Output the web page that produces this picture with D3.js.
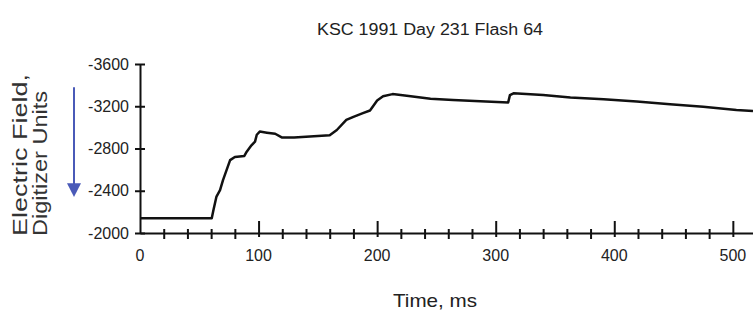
<!DOCTYPE html>
<html>
<head>
<meta charset="utf-8">
<script src="https://cdn.jsdelivr.net/npm/d3@7"></script>
<style>
  body { margin: 0; background: #fff; }
  svg { display: block; font-family: "Liberation Sans", Arial, sans-serif; }
</style>
</head>
<body>
<div id="chart"></div>
<script>

// time in ms, field in digitizer units
var timeMs = [0, 60.5, 62, 64.5, 67.5, 70, 73, 76, 80, 88, 90, 94, 97, 98.5, 101, 107, 114, 119.5, 130,
              160, 166, 174, 180, 188, 194, 200, 205, 213, 225, 245, 264, 287, 310.5, 312, 315, 340,
              363, 391, 419, 447, 475, 503, 517];
var field = [-2140, -2140, -2220, -2345, -2405, -2500, -2595, -2690, -2720, -2730, -2770, -2830, -2865, -2930, -2960, -2950, -2940, -2905, -2905,
             -2925, -2975, -3070, -3100, -3135, -3160, -3255, -3295, -3315, -3300, -3270, -3260, -3248, -3235, -3305, -3322, -3307,
             -3282, -3266, -3244, -3220, -3196, -3165, -3155];

var xMajor = [100, 200, 300, 400, 500];
var xMinor = [20, 40, 60, 80, 120, 140, 160, 180, 220, 240, 260, 280, 320, 340, 360, 380, 420, 440, 460, 480];
var xLabels = [0, 100, 200, 300, 400, 500];
var yTicks = [-3600, -3200, -2800, -2400, -2000];

var title = "KSC 1991 Day 231 Flash 64";

var width = 753, height = 316;

var svg = d3.select("#chart").append("svg")
    .attr("width", width)
    .attr("height", height);

// set the ranges
var x = d3.scaleLinear()
    .domain([0, 517])
    .range([140, 753]);

var y = d3.scaleLinear()
    .domain([-2000, -3600])
    .range([233, 64]);

// x axis: minor ticks first, then the longer majors
var xMin = svg.append("g")
    .attr("transform", "translate(0," + y(-2000) + ")")
    .call(d3.axisBottom(x).tickValues(xMinor).tickSizeOuter(0).tickFormat(""));
xMin.select(".domain").attr("stroke-width", 2).attr("stroke", "#111");
xMin.selectAll(".tick line").attr("y1", -4).attr("y2", 6).attr("stroke-width", 2).attr("stroke", "#111");

var xMaj = svg.append("g")
    .attr("transform", "translate(0," + y(-2000) + ")")
    .call(d3.axisBottom(x).tickValues(xMajor).tickSizeOuter(0).tickFormat(""));
xMaj.select(".domain").remove();
xMaj.selectAll(".tick line").attr("y1", -12).attr("y2", 4).attr("stroke-width", 2).attr("stroke", "#111");

// x tick labels
svg.selectAll(".xlab")
    .data(xLabels)
    .enter().append("text")
    .attr("class", "xlab")
    .attr("x", function(d) { return x(d); })
    .attr("y", 261)
    .attr("text-anchor", "middle")
    .attr("font-size", "16px")
    .attr("fill", "#222")
    .text(function(d) { return d; });

// y axis
var yAx = svg.append("g")
    .attr("transform", "translate(" + x(0) + ",0)")
    .call(d3.axisLeft(y).tickValues(yTicks).tickSizeOuter(0).tickFormat(function(d) { return d; }));
yAx.select(".domain").attr("stroke-width", 2).attr("stroke", "#111");
yAx.selectAll(".tick line").attr("x1", -5).attr("x2", 5).attr("stroke-width", 2).attr("stroke", "#111");
yAx.selectAll(".tick text")
    .attr("x", -11)
    .attr("font-size", "16px")
    .attr("font-family", "Liberation Sans, Arial, sans-serif")
    .attr("fill", "#222");

// the field record
var line = d3.line()
    .x(function(d, i) { return x(timeMs[i]); })
    .y(function(d) { return y(d); });

svg.append("path")
    .datum(field)
    .attr("d", line)
    .attr("fill", "none")
    .attr("stroke", "#111")
    .attr("stroke-width", 2.5)
    .attr("stroke-linejoin", "round");

// TEXT LABELS
// ========================
svg.append("text")
    .attr("x", 430)
    .attr("y", 35)
    .attr("text-anchor", "middle")
    .attr("font-size", "16px")
    .attr("textLength", 226)
    .attr("lengthAdjust", "spacingAndGlyphs")
    .attr("fill", "#222")
    .text(title);

svg.append("text")
    .attr("x", 435)
    .attr("y", 307)
    .attr("text-anchor", "middle")
    .attr("font-size", "19px")
    .attr("textLength", 84)
    .attr("lengthAdjust", "spacingAndGlyphs")
    .attr("fill", "#222")
    .text("Time, ms");

svg.append("text")
    .attr("transform", "translate(27,236) rotate(-90)")
    .attr("font-size", "21px")
    .attr("textLength", 162)
    .attr("lengthAdjust", "spacingAndGlyphs")
    .attr("fill", "#333")
    .text("Electric Field,");

svg.append("text")
    .attr("transform", "translate(47,236) rotate(-90)")
    .attr("font-size", "21px")
    .attr("textLength", 145)
    .attr("lengthAdjust", "spacingAndGlyphs")
    .attr("fill", "#333")
    .text("Digitizer Units");

// blue arrow showing the field direction
var ax = 74;
svg.append("line")
    .attr("x1", ax).attr("x2", ax)
    .attr("y1", y(-3380)).attr("y2", y(-2460))
    .attr("stroke", "#4a5ab8")
    .attr("stroke-width", 2);

svg.append("path")
    .attr("d", "M" + (ax - 7) + "," + y(-2470) + "L" + (ax + 7) + "," + y(-2470) + "L" + ax + "," + y(-2340) + "Z")
    .attr("fill", "#4a5ab8");

</script>
</body>
</html>
